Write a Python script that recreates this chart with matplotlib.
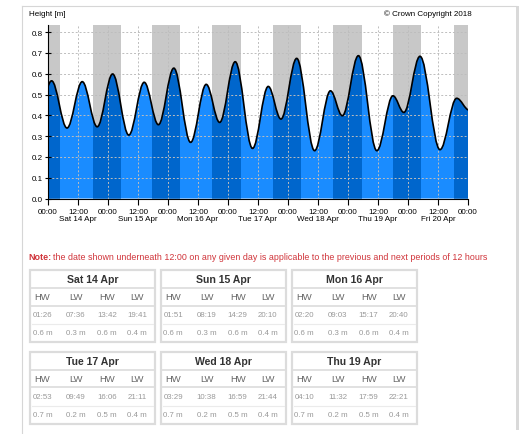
import pandas as pd
import matplotlib
matplotlib.use("Agg")
import matplotlib.pyplot as plt
from matplotlib.path import Path
from matplotlib.patches import PathPatch, Rectangle

plt.rcParams['font.family'] = ['Liberation Sans', 'DejaVu Sans']

# ------------------------------
# Data
# ------------------------------
start = pd.Timestamp("2018-04-14 00:00")

# high / low water times and heights [m]
tide_times = ["2018-04-13 19:10",
              "2018-04-14 01:26", "2018-04-14 07:36", "2018-04-14 13:42", "2018-04-14 19:41",
              "2018-04-15 01:51", "2018-04-15 08:19", "2018-04-15 14:29", "2018-04-15 20:10",
              "2018-04-16 02:20", "2018-04-16 09:03", "2018-04-16 15:17", "2018-04-16 20:40",
              "2018-04-17 02:53", "2018-04-17 09:49", "2018-04-17 16:06", "2018-04-17 21:11",
              "2018-04-18 03:29", "2018-04-18 10:38", "2018-04-18 16:59", "2018-04-18 21:44",
              "2018-04-19 04:10", "2018-04-19 11:32", "2018-04-19 17:59", "2018-04-19 22:21",
              "2018-04-20 04:48", "2018-04-20 12:48", "2018-04-20 19:28",
              "2018-04-21 00:30", "2018-04-21 05:30"]
tide_heights = [0.34,
                0.566, 0.339, 0.562, 0.345,
                0.599, 0.305, 0.559, 0.355,
                0.627, 0.270, 0.549, 0.366,
                0.658, 0.241, 0.539, 0.382,
                0.674, 0.230, 0.518, 0.398,
                0.687, 0.230, 0.494, 0.414,
                0.684, 0.235, 0.482,
                0.425, 0.67]

# dark (night) periods shown as grey / dark blue bands
night_start = ["2018-04-13 17:55", "2018-04-14 17:55", "2018-04-15 17:35", "2018-04-16 17:40",
               "2018-04-17 17:55", "2018-04-18 18:05", "2018-04-19 17:55", "2018-04-20 18:20"]
night_end = ["2018-04-14 04:55", "2018-04-15 05:05", "2018-04-16 04:50", "2018-04-17 05:05",
             "2018-04-18 05:20", "2018-04-19 05:30", "2018-04-20 05:05", "2018-04-21 05:05"]

day_labels = ["Sat 14 Apr", "Sun 15 Apr", "Mon 16 Apr", "Tue 17 Apr",
              "Wed 18 Apr", "Thu 19 Apr", "Fri 20 Apr"]

# tide table under the chart
table_days = ["Sat 14 Apr", "Sun 15 Apr", "Mon 16 Apr",
              "Tue 17 Apr", "Wed 18 Apr", "Thu 19 Apr"]
table_types = ["HW", "LW", "HW", "LW"]
table_times = [["01:26", "07:36", "13:42", "19:41"],
               ["01:51", "08:19", "14:29", "20:10"],
               ["02:20", "09:03", "15:17", "20:40"],
               ["02:53", "09:49", "16:06", "21:11"],
               ["03:29", "10:38", "16:59", "21:44"],
               ["04:10", "11:32", "17:59", "22:21"]]
table_heights = [["0.6 m", "0.3 m", "0.6 m", "0.4 m"],
                 ["0.6 m", "0.3 m", "0.6 m", "0.4 m"],
                 ["0.6 m", "0.3 m", "0.6 m", "0.4 m"],
                 ["0.7 m", "0.2 m", "0.5 m", "0.4 m"],
                 ["0.7 m", "0.2 m", "0.5 m", "0.4 m"],
                 ["0.7 m", "0.2 m", "0.5 m", "0.4 m"]]

# ------------------------------
# Build the tide curve
# ------------------------------
def hours(times):
    return list((pd.to_datetime(times) - start) / pd.Timedelta(hours=1))

t = hours(tide_times)
h = tide_heights

# smooth cubic segments with flat tangents at each high / low water
k = 0.363
verts = [(t[0], h[0])]
codes = [Path.MOVETO]
for i in range(len(t) - 1):
    dt = t[i + 1] - t[i]
    verts += [(t[i] + k * dt, h[i]), (t[i + 1] - k * dt, h[i + 1]), (t[i + 1], h[i + 1])]
    codes += [Path.CURVE4] * 3
line_path = Path(verts, codes)
area_path = Path([(t[0], 0)] + verts + [(t[-1], 0), (t[0], 0)],
                 [Path.MOVETO, Path.LINETO] + codes[1:] + [Path.LINETO, Path.CLOSEPOLY])

# ------------------------------
# Figure
# ------------------------------
W, H = 523, 435
fig = plt.figure(figsize=(W / 100, H / 100), dpi=100)
fig.patch.set_facecolor("white")

ax = fig.add_axes([48 / W, 1 - 199.5 / H, 420 / W, (199.5 - 25.7) / H])
ax.set_xlim(0, 168)
ax.set_ylim(0, 0.836)

ns, ne = hours(night_start), hours(night_end)
for a, b in zip(ns, ne):
    ax.axvspan(a, b, color="#c8c8c8", lw=0, zorder=0)

area = PathPatch(area_path, facecolor="#1a8cff", edgecolor="none", zorder=1)
ax.add_patch(area)
for a, b in zip(ns, ne):
    band = ax.axvspan(a, b, color="#0066cc", lw=0, zorder=2)
    band.set_clip_path(area)

ax.add_patch(PathPatch(line_path, facecolor="none", edgecolor="black", lw=1.2, zorder=4))

xt = list(range(0, 169, 12))
ax.set_xticks(xt)
ax.set_xticklabels(["00:00" if x % 24 == 0 else "12:00\n" + day_labels[x // 24] for x in xt],
                   fontsize=5.8, linespacing=1.15, va="top")
ax.set_yticks([i / 10 for i in range(9)])
ax.set_yticklabels(["%.1f" % (i / 10) for i in range(9)], fontsize=5.8)
ax.tick_params(axis="x", direction="out", length=4, width=0.8, pad=2.5)
ax.tick_params(axis="y", direction="inout", length=4, width=0.8, pad=2)
ax.grid(True, color="#bdbdbd", linestyle=(0, (2, 2)), lw=0.7, zorder=3)
ax.set_axisbelow(False)
for s in ["top", "right"]:
    ax.spines[s].set_visible(False)
for s in ["left", "bottom"]:
    ax.spines[s].set_linewidth(0.8)
    ax.spines[s].set_zorder(5)

# ------------------------------
# Page elements (pixel coordinates)
# ------------------------------
pg = fig.add_axes([0, 0, 1, 1], zorder=-1)
pg.set_xlim(0, W)
pg.set_ylim(H, 0)
pg.axis("off")

pg.plot([22, 516], [7, 7], color="#d6d6d6", lw=0.8)
pg.plot([22, 22], [7, H], color="#d6d6d6", lw=0.8)
pg.add_patch(Rectangle((515.5, 7), 3.5, 424, facecolor="#d9d9d9", edgecolor="none"))

fig.text(29 / W, 1 - 14.5 / H, "Height [m]", fontsize=5.8, va="center", ha="left")
fig.text(472 / W, 1 - 14.5 / H, "\u00a9 Crown Copyright 2018", fontsize=5.8, va="center", ha="right")

note = fig.text(28 / W, 1 - 257 / H, "Note:", fontsize=6.4, color="#d0343a",
                fontweight="bold", va="center", ha="left")
fig.canvas.draw()
bb = note.get_window_extent()
fig.text(bb.x1 / W + 2 / W, 1 - 257 / H,
         "the date shown underneath 12:00 on any given day is applicable to the previous and next periods of 12 hours",
         fontsize=6.4, color="#d0343a", va="center", ha="left")

# tide table boxes
box_x = [30, 160.7, 291.7]
box_y = [271, 352.7]
box_w, box_h = 125, 72
col_off = [12.5, 46, 77, 107]
line_c = "#dcdcdc"
for n, day in enumerate(table_days):
    x0 = box_x[n % 3]
    y0 = box_y[n // 3]
    pg.add_patch(Rectangle((x0, y0), box_w, box_h, facecolor="white",
                           edgecolor=line_c, lw=1.6, zorder=2))
    pg.plot([x0, x0 + box_w], [y0 + 18, y0 + 18], color=line_c, lw=1.2, zorder=3)
    pg.plot([x0, x0 + box_w], [y0 + 35.5, y0 + 35.5], color=line_c, lw=1.2, zorder=3)
    pg.plot([x0 + 2, x0 + box_w - 2], [y0 + 54, y0 + 54], color="#ebebeb", lw=0.8, zorder=3)
    pg.text(x0 + box_w / 2, y0 + 9.5, day, fontsize=7.6, fontweight="bold",
            color="#333333", ha="center", va="center", zorder=4)
    for j in range(4):
        cx = x0 + col_off[j]
        pg.text(cx, y0 + 27, table_types[j], fontsize=6.8, color="#666666",
                ha="center", va="center", zorder=4)
        pg.text(cx, y0 + 44.8, table_times[n][j], fontsize=5.7, color="#999999",
                ha="center", va="center", zorder=4)
        pg.text(cx, y0 + 63, table_heights[n][j], fontsize=5.7, color="#999999",
                ha="center", va="center", zorder=4)

fig.savefig("out.png", dpi=100)
